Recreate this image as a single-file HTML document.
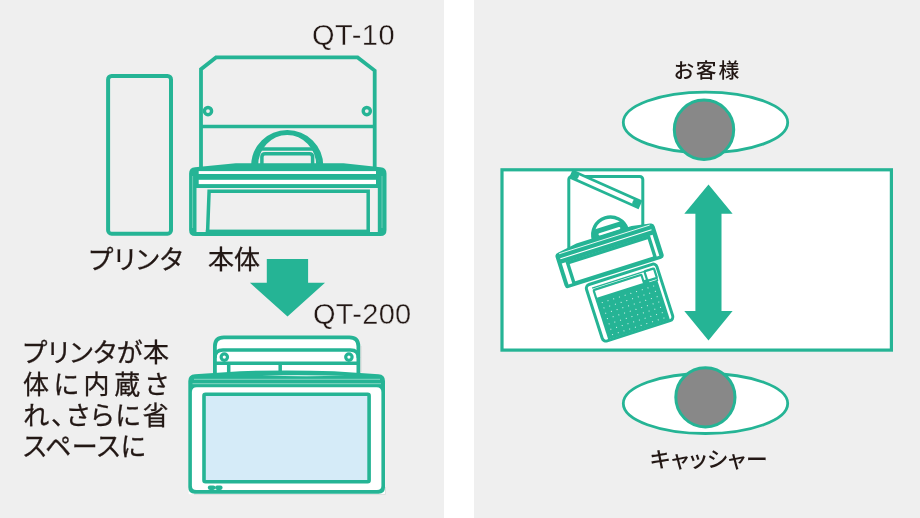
<!DOCTYPE html>
<html lang="ja">
<head>
<meta charset="utf-8">
<title>QT-10 / QT-200</title>
<style>
html,body{margin:0;padding:0;background:#fff;}
body{width:920px;height:518px;overflow:hidden;position:relative;font-family:"Liberation Sans","Noto Sans CJK JP",sans-serif;color:#231815;}
.panel{position:absolute;top:0;height:518px;background:#efefef;}
#pl{left:0;width:444px;}
#pr{left:474px;width:446px;}
svg{position:absolute;left:0;top:0;}
.t{position:absolute;white-space:nowrap;line-height:1;margin:0;will-change:transform;}
.q{-webkit-text-stroke:0.35px #efefef;}
.s{-webkit-text-stroke:0.3px #231815;}
.jp{font-family:"Liberation Sans","Noto Sans CJK JP",sans-serif;font-feature-settings:"palt" 1;}
</style>
</head>
<body>
<div class="panel" id="pl"></div>
<div class="panel" id="pr"></div>
<svg id="art" width="920" height="518" viewBox="0 0 920 518">
<rect x="108.1" y="75.9" width="62.9" height="157.8" rx="3.5" fill="none" stroke="#25b495" stroke-width="4"/>
<g id="qt10art" fill="none" stroke="#25b495" stroke-linejoin="miter">
<path d="M201,168 L201,69.2 L216,57.4 L357.6,57.4 L374.7,70.6 L374.7,168" stroke-width="3.8"/>
<path d="M201,126.5 H374.7" stroke-width="3.5"/>
<circle cx="208" cy="111.1" r="3.6" stroke-width="3.4"/>
<circle cx="366.8" cy="111.1" r="3.6" stroke-width="3.4"/>
<path d="M253.4,166 A33.8,33.8 0 0 1 321,166" stroke-width="4.6"/>
<path d="M256.6,166 A30.6,32.6 0 0 1 317.8,166" stroke-width="3"/>
<path d="M258,149 H316.4" stroke-width="3.7"/>
<path d="M261.9,166 V157 Q261.9,153.8 265.2,153.8 H309.3 Q312.6,153.8 312.6,157 V166" stroke-width="3.5"/>
</g>
<path d="M189.1,173.5 Q189.1,167.6 195,167.2 L235.7,163.3 L343.5,163.3 L380.5,167.2 Q386.5,167.8 386.5,173.5 L386.5,229.9 Q386.5,235.9 380.5,235.9 L195.1,235.9 Q189.1,235.9 189.1,229.9 Z" fill="#25b495"/>
<rect x="198.7" y="171.1" width="177.3" height="2.9" fill="#fff"/>
<rect x="198.7" y="179.8" width="177.3" height="4.3" fill="#fff"/>
<rect x="196.5" y="188" width="181.3" height="44" fill="#efefef"/>
<path d="M209.1,191.3 L368.2,191.3 L368.2,231.5 L207.6,231.5 Z" fill="none" stroke="#25b495" stroke-width="3.5"/>
<rect x="205.8" y="229.8" width="164.2" height="4" fill="#25b495"/>
<path d="M192.6,176 V228 M382,176 V228" stroke="#7fd3bf" stroke-width="0.8" fill="none"/>
<polygon fill="#25b495" points="266.8,259 308.1,259 308.1,282.7 325,282.7 287.5,316.6 249.9,282.7 266.8,282.7"/>
<path d="M214.9,376 V346.3 Q214.9,337.3 223.9,337.3 H349.4 Q358.4,337.3 358.4,346.3 V376 Z" fill="#fff" stroke="#25b495" stroke-width="3.8"/>
<g fill="none" stroke="#25b495">
<path d="M214.9,358 Q214.9,350 222.9,350 H350.4 Q358.4,350 358.4,358" stroke-width="3.5"/>
<path d="M214.9,363.3 H358.4" stroke-width="3.5"/>
<path d="M228.7,363.3 V373 M280.2,363.3 V373" stroke-width="3.5"/>
<circle cx="224.3" cy="357.1" r="3.2" stroke-width="3.2" fill="#fff"/>
<circle cx="348.9" cy="357.1" r="3.2" stroke-width="3.2" fill="#fff"/>
</g>
<rect x="188.7" y="384" width="196.5" height="110.2" fill="#fff"/>
<path d="M194,494.4 H385.4 V487" stroke="#d6d6d6" stroke-width="0.7" fill="none"/>
<path d="M361,346 V372" stroke="#cfcfcf" stroke-width="0.7" fill="none"/>
<path d="M188.3,381 Q188.3,374.6 195,374.2 L240,371.2 Q287,369.6 334,371.2 L378.5,374.2 Q385,374.6 385,381 L385,487.2 Q385,493.7 378.5,493.7 L194.8,493.7 Q188.3,493.7 188.3,487.2 Z" fill="#25b495"/>
<path d="M191.9,392 Q191.9,387.2 196.7,387.2 H376.6 Q381.4,387.2 381.4,392 V485.7 Q381.4,490.1 377,490.1 H196.3 Q191.9,490.1 191.9,485.7 Z" fill="#fff"/>
<path d="M194,379.3 H380 M192.5,383.7 H381" stroke="#8fd9c7" stroke-width="0.9" fill="none"/>
<path d="M262,375.6 Q300,374.6 345,375.8 Q300,376.6 262,375.6 Z" fill="#fff"/>
<rect x="204" y="394.2" width="165.1" height="87.5" rx="1.5" fill="#d5ebf8" stroke="#25b495" stroke-width="3.6"/>
<rect x="207.8" y="485.6" width="7.6" height="4.3" rx="2.1" fill="#25b495"/>
<rect x="215" y="485.6" width="7.6" height="4.3" rx="2.1" fill="#25b495"/>
<rect x="502" y="169.8" width="389.4" height="180.3" fill="#fff" stroke="#25b495" stroke-width="3.2"/>
<ellipse cx="705.5" cy="122.4" rx="82.2" ry="30.3" fill="#fff" stroke="#25b495" stroke-width="2.8"/>
<circle cx="704" cy="129.8" r="29.7" fill="#888888" stroke="#25b495" stroke-width="3"/>
<ellipse cx="705.5" cy="403.5" rx="82.2" ry="30" fill="#fff" stroke="#25b495" stroke-width="2.8"/>
<circle cx="705.4" cy="397.3" r="29.6" fill="#888888" stroke="#25b495" stroke-width="3"/>
<polygon fill="#25b495" points="708.5,184.4 732.6,213.7 721.5,213.7 721.5,311.1 732.6,311.1 708.5,340.4 684.3,311.1 695.4,311.1 695.4,213.7 684.3,213.7"/>
<rect x="568.8" y="176.4" width="74" height="80" rx="3" fill="#fff" stroke="#25b495" stroke-width="3"/>
<g transform="translate(571.4,174.1) rotate(24.07)">
<rect x="0.6" y="-3.4" width="73.7" height="6.8" fill="#fff" stroke="#25b495" stroke-width="2.7"/>
<circle cx="4" cy="0" r="3.8" fill="#25b495"/><circle cx="70.9" cy="0" r="3.8" fill="#25b495"/>
</g>
<g transform="translate(609.4,255.25) rotate(-17.6)">
<g transform="translate(7.2,-19.2)">
<path d="M-17.7,0 A17.7,17.7 0 0 1 17.7,0 Z" fill="#fff" stroke="#25b495" stroke-width="3.4"/>
<path d="M-14.6,-9.8 H14.6 L17.7,0 V2 H-17.7 V0 Z" fill="#25b495"/>
<rect x="-11.3" y="-4.9" width="22.8" height="2.4" rx="1.1" fill="#fff"/>
</g>
<path d="M-51.9,-14 Q-51.9,-17.6 -48.3,-17.9 L-28,-21.2 L30,-21.2 L48.3,-17.9 Q51.9,-17.6 51.9,-14 V15.2 Q51.9,18.9 48.3,18.9 H-48.3 Q-51.9,18.9 -51.9,15.2 Z" fill="#25b495"/>
<path d="M-47.5,-16.6 H47.5" stroke="#fff" stroke-width="0.8" fill="none"/>
<path d="M-47.8,-11.5 H47.8" stroke="#fff" stroke-width="1.1" fill="none"/>
<rect x="-47.9" y="-6.6" width="95.3" height="22.2" fill="#fff"/>
<rect x="-42.2" y="-5.3" width="85.2" height="21.5" fill="#fff" stroke="#25b495" stroke-width="3.4"/>
</g>
<g transform="translate(629.6,302.6) rotate(-17.8)">
<rect x="-37" y="-29.6" width="74" height="59.2" rx="4" fill="#fff" stroke="#25b495" stroke-width="3"/>
<path d="M-31.3,-25.2 H31 Q33.4,-25.2 33.4,-22.8 V-12" stroke="#25b495" stroke-width="1.3" fill="none"/>
<path d="M-31.6,-13.4 H33.2 V28.6 H-31.6 Z" fill="#25b495"/>
<rect x="-30.5" y="-22.9" width="50.2" height="9.4" rx="0.8" fill="#fff" stroke="#25b495" stroke-width="2.2"/>
<rect x="23.6" y="-25.2" width="10" height="10" rx="0.8" fill="#fff" stroke="#25b495" stroke-width="2.2"/>
<path d="M19.4,-17 H25 V-12 H19.4 Z" fill="#25b495"/>
<g fill="#fff" opacity="0.8"><circle cx="-26.0" cy="-8.4" r="0.6"/><circle cx="-20.0" cy="-8.4" r="0.6"/><circle cx="-14.0" cy="-8.4" r="0.6"/><circle cx="-8.0" cy="-8.4" r="0.6"/><circle cx="-2.0" cy="-8.4" r="0.6"/><circle cx="4.0" cy="-8.4" r="0.6"/><circle cx="10.0" cy="-8.4" r="0.6"/><circle cx="16.0" cy="-8.4" r="0.6"/><circle cx="22.0" cy="-8.4" r="0.6"/><circle cx="28.0" cy="-8.4" r="0.6"/><circle cx="-26.0" cy="-2.8" r="0.6"/><circle cx="-20.0" cy="-2.8" r="0.6"/><circle cx="-14.0" cy="-2.8" r="0.6"/><circle cx="-8.0" cy="-2.8" r="0.6"/><circle cx="-2.0" cy="-2.8" r="0.6"/><circle cx="4.0" cy="-2.8" r="0.6"/><circle cx="10.0" cy="-2.8" r="0.6"/><circle cx="16.0" cy="-2.8" r="0.6"/><circle cx="22.0" cy="-2.8" r="0.6"/><circle cx="28.0" cy="-2.8" r="0.6"/><circle cx="-26.0" cy="2.8" r="0.6"/><circle cx="-20.0" cy="2.8" r="0.6"/><circle cx="-14.0" cy="2.8" r="0.6"/><circle cx="-8.0" cy="2.8" r="0.6"/><circle cx="-2.0" cy="2.8" r="0.6"/><circle cx="4.0" cy="2.8" r="0.6"/><circle cx="10.0" cy="2.8" r="0.6"/><circle cx="16.0" cy="2.8" r="0.6"/><circle cx="22.0" cy="2.8" r="0.6"/><circle cx="28.0" cy="2.8" r="0.6"/><circle cx="-26.0" cy="8.4" r="0.6"/><circle cx="-20.0" cy="8.4" r="0.6"/><circle cx="-14.0" cy="8.4" r="0.6"/><circle cx="-8.0" cy="8.4" r="0.6"/><circle cx="-2.0" cy="8.4" r="0.6"/><circle cx="4.0" cy="8.4" r="0.6"/><circle cx="10.0" cy="8.4" r="0.6"/><circle cx="16.0" cy="8.4" r="0.6"/><circle cx="22.0" cy="8.4" r="0.6"/><circle cx="28.0" cy="8.4" r="0.6"/><circle cx="-26.0" cy="14.0" r="0.6"/><circle cx="-20.0" cy="14.0" r="0.6"/><circle cx="-14.0" cy="14.0" r="0.6"/><circle cx="-8.0" cy="14.0" r="0.6"/><circle cx="-2.0" cy="14.0" r="0.6"/><circle cx="4.0" cy="14.0" r="0.6"/><circle cx="10.0" cy="14.0" r="0.6"/><circle cx="16.0" cy="14.0" r="0.6"/><circle cx="22.0" cy="14.0" r="0.6"/><circle cx="28.0" cy="14.0" r="0.6"/><circle cx="-26.0" cy="19.6" r="0.6"/><circle cx="-20.0" cy="19.6" r="0.6"/><circle cx="-14.0" cy="19.6" r="0.6"/><circle cx="-8.0" cy="19.6" r="0.6"/><circle cx="-2.0" cy="19.6" r="0.6"/><circle cx="4.0" cy="19.6" r="0.6"/><circle cx="10.0" cy="19.6" r="0.6"/><circle cx="16.0" cy="19.6" r="0.6"/><circle cx="22.0" cy="19.6" r="0.6"/><circle cx="28.0" cy="19.6" r="0.6"/><circle cx="-26.0" cy="25.2" r="0.6"/><circle cx="-20.0" cy="25.2" r="0.6"/><circle cx="-14.0" cy="25.2" r="0.6"/><circle cx="-8.0" cy="25.2" r="0.6"/><circle cx="-2.0" cy="25.2" r="0.6"/><circle cx="4.0" cy="25.2" r="0.6"/><circle cx="10.0" cy="25.2" r="0.6"/><circle cx="16.0" cy="25.2" r="0.6"/><circle cx="22.0" cy="25.2" r="0.6"/><circle cx="28.0" cy="25.2" r="0.6"/></g>
</g>
</svg>
<div class="t q" id="qt10" style="left:312.3px;top:21px;font-size:29px;font-weight:400;letter-spacing:0.5px;">QT-10</div>
<div class="t q" id="qt200" style="left:313.1px;top:300.2px;font-size:29px;font-weight:400;letter-spacing:0.3px;">QT-200</div>
<div class="t jp s" id="lab1" style="left:88.6px;top:247.13px;font-size:26px;font-weight:400;letter-spacing:0.9px;">プリンタ</div>
<div class="t jp s" id="lab2" style="left:207.6px;top:247.13px;font-size:26px;font-weight:400;letter-spacing:0px;">本体</div>
<div class="t jp" id="okyaku" style="left:673.8px;top:60.86px;font-size:20.8px;font-weight:500;letter-spacing:1.9px;">お客様</div>
<div class="t jp" id="cashier" style="left:650px;top:448.55px;font-size:21.8px;font-weight:500;letter-spacing:0.55px;">キャッシャー</div>
<div class="t jp s" id="d1" style="left:22.5px;top:340.13px;font-size:26px;font-weight:400;letter-spacing:0.7px;">プリンタが本</div>
<div class="t jp s" id="d2" style="left:23px;top:371.83px;font-size:26px;font-weight:400;letter-spacing:4.7px;">体に内蔵さ</div>
<div class="t jp s" id="d3" style="left:22.5px;top:403.33px;font-size:26px;font-weight:400;letter-spacing:1.9px;">れ、さらに省</div>
<div class="t jp s" id="d4" style="left:22.5px;top:434.33px;font-size:26px;font-weight:400;letter-spacing:0.5px;">スペースに</div>
</body>
</html>
